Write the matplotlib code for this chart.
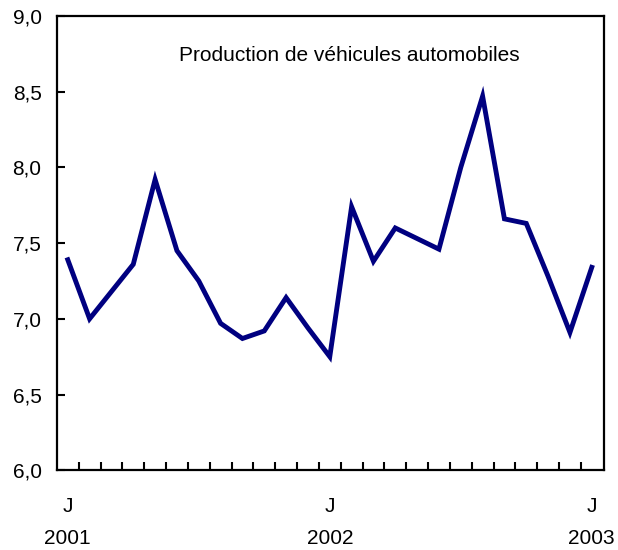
import matplotlib.pyplot as plt
import numpy as np

plt.rcParams['font.family'] = ['Liberation Sans', 'DejaVu Sans']

# monthly values, Jan 2001 .. Jan 2003
values = [7.39, 7.00, 7.18, 7.36, 7.92, 7.45, 7.25, 6.97, 6.87, 6.92, 7.14, 6.94,
          6.75, 7.74, 7.38, 7.60, 7.53, 7.46, 8.00, 8.47, 7.66, 7.63, 7.28, 6.91,
          7.34]
month_labels = ['J', 'J', 'J']
year_labels = ['2001', '2002', '2003']
y_ticks = [6.0, 6.5, 7.0, 7.5, 8.0, 8.5, 9.0]
title = 'Production de véhicules automobiles'

x = np.arange(len(values))

fig = plt.figure(figsize=(6.18, 5.5), dpi=100)
ax = fig.add_axes([0.092, 0.145, 0.885, 0.826])

ax.plot(x, values, color='#000080', lw=3.5, solid_joinstyle='miter')

ax.set_xlim(-0.5, 24.55)
ax.set_ylim(6.0, 9.0)

# y axis
ax.set_yticks(y_ticks)
ax.set_yticklabels([f'{v:.1f}'.replace('.', ',') for v in y_ticks])
ax.tick_params(axis='y', direction='in', length=6, width=1.5, labelsize=15, pad=11)

# x axis: month ticks between points, J labels at January
label_pos = [0, 12, 24]
ax.set_xticks(label_pos)
ax.set_xticklabels(month_labels)
ax.set_xticks(np.arange(0.5, 24, 1), minor=True)
ax.tick_params(axis='x', which='major', length=0, labelsize=15, pad=19)
ax.tick_params(axis='x', which='minor', direction='in', length=6, width=1.5)

for p, yl in zip(label_pos, year_labels):
    ax.text(p, -0.15, yl, transform=ax.get_xaxis_transform(),
            ha='center', va='center', fontsize=15)

for s in ax.spines.values():
    s.set_linewidth(1.6)

ax.text(0.535, 0.912, title, transform=ax.transAxes, ha='center', va='center',
        fontsize=15)

fig.savefig('out.png', dpi=100)
